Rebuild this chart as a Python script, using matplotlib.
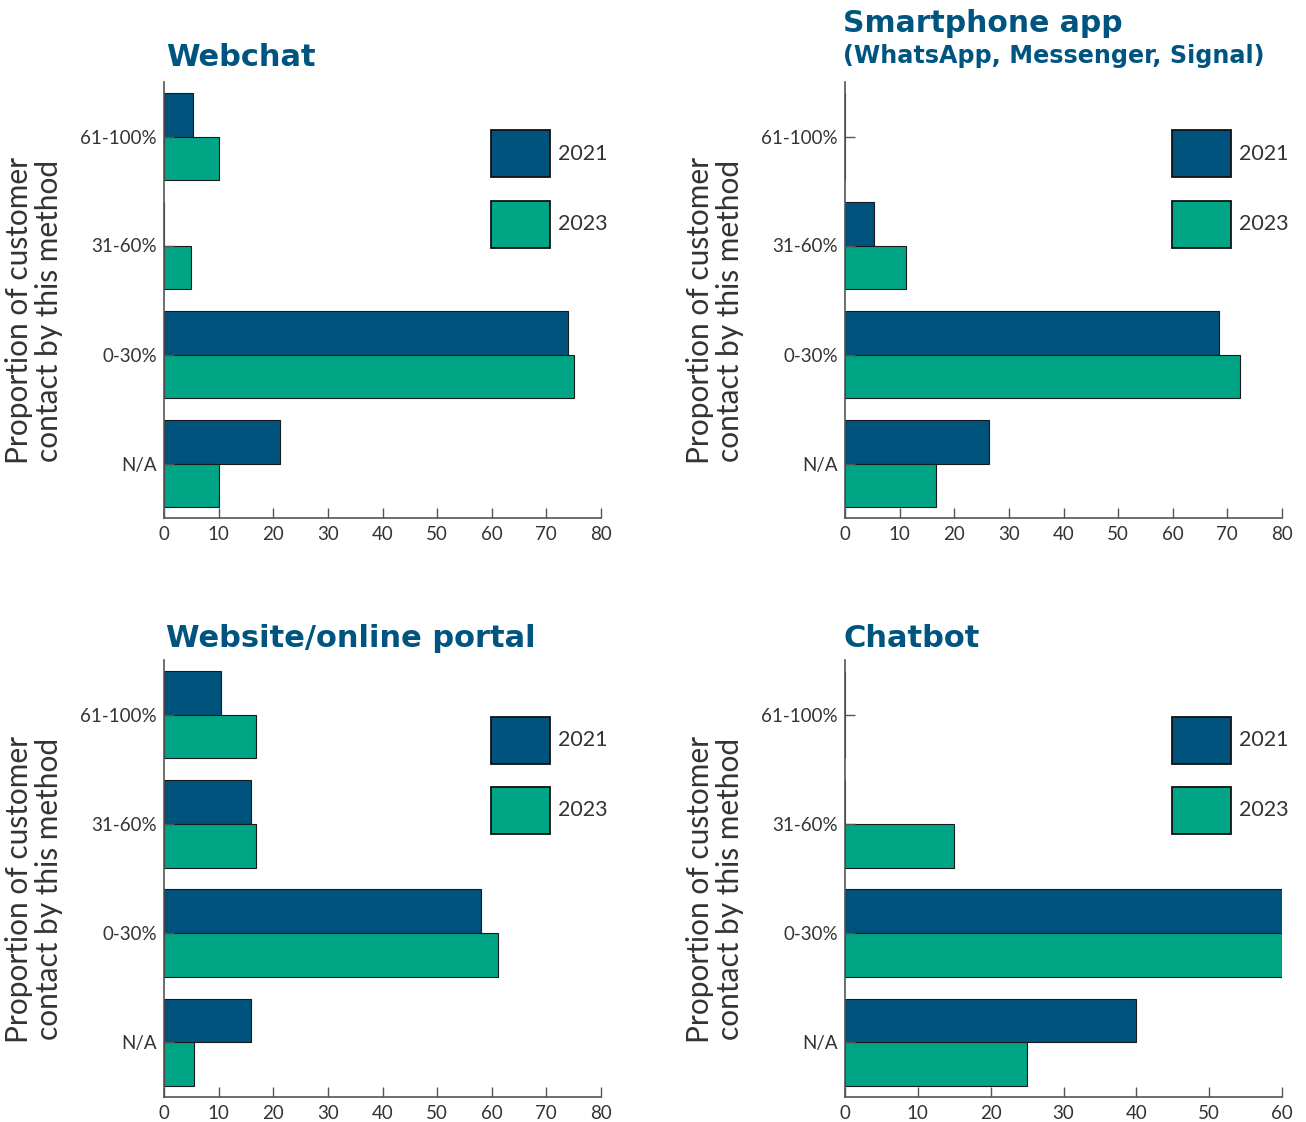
import matplotlib
matplotlib.use("Agg")
import matplotlib.pyplot as plt
from matplotlib.patches import Rectangle
import numpy as np

plt.rcParams['font.family'] = ['Lato', 'DejaVu Sans']

categories = ['N/A', '0-30%', '31-60%', '61-100%']
years = ['2021', '2023']

webchat_2021 = [21.2, 74, 0, 5.3]
webchat_2023 = [10, 75, 5, 10]
smartphone_2021 = [26.4, 68.5, 5.3, 0]
smartphone_2023 = [16.7, 72.3, 11.2, 0]
website_2021 = [15.9, 58, 15.9, 10.5]
website_2023 = [5.5, 61.1, 16.8, 16.8]
chatbot_2021 = [40, 60, 0, 0]
chatbot_2023 = [25, 60, 15, 0]

col_2021 = '#00537C'
col_2023 = '#00A586'
title_col = '#005580'
axis_col = '#555555'
text_col = '#333333'

W, H = 1306, 1122
fig = plt.figure(figsize=(W / 100, H / 100), dpi=100)

# left, right, top, bottom (px), data, xmax, title lines with baselines, legend box tops
panels = [
    (164, 601, 82, 518, webchat_2021, webchat_2023, 80,
     [('Webchat', 22, 66)], (130, 201)),
    (845, 1282, 82, 518, smartphone_2021, smartphone_2023, 80,
     [('Smartphone app', 21.5, 32), ('(WhatsApp, Messenger, Signal)', 17.2, 63)], (130, 201)),
    (164, 601, 660, 1097, website_2021, website_2023, 80,
     [('Website/online portal', 22, 647)], (717, 787)),
    (845, 1282, 660, 1097, chatbot_2021, chatbot_2023, 60,
     [('Chatbot', 22, 647)], (717, 787)),
]

y = np.arange(len(categories))
h = 0.4

for left, right, top, bottom, v21, v23, xmax, title, leg_tops in panels:
    aw, ah = right - left, bottom - top
    ax = fig.add_axes([left / W, 1 - bottom / H, aw / W, ah / H])
    ax.barh(y + h / 2, v21, height=h, color=col_2021, edgecolor='#1a1a1a', linewidth=0.8)
    ax.barh(y - h / 2, v23, height=h, color=col_2023, edgecolor='#1a1a1a', linewidth=0.8)
    ax.set_ylim(-0.5, 3.5)
    ax.set_xlim(0, xmax)
    ax.set_xticks(np.arange(0, xmax + 1, 10))
    ax.set_yticks(y)
    ax.set_yticklabels(categories)
    for s in ['top', 'right']:
        ax.spines[s].set_visible(False)
    for s in ['left', 'bottom']:
        ax.spines[s].set_color(axis_col)
        ax.spines[s].set_linewidth(1.2)
    ax.tick_params(axis='both', direction='in', length=7, width=1, color=axis_col,
                   labelsize=13.5, labelcolor=text_col)
    ax.tick_params(axis='x', pad=6)
    ax.tick_params(axis='y', pad=5)
    ax.set_ylabel('Proportion of customer\ncontact by this method', fontsize=21.5,
                  color=text_col, linespacing=1.1)
    ax.yaxis.set_label_coords(-101 / aw, 0.475)

    tx = 0.004 if left < 600 else -0.004
    for txt, fs, base in title:
        ax.text(tx, (bottom - base) / ah, txt,
                transform=ax.transAxes, fontsize=fs, fontweight='bold',
                family='DejaVu Sans', color=title_col, va='baseline', ha='left')

    # legend boxes
    x0 = (491 - 164) / 437 if left < 600 else (1172 - 845) / 437
    for yr, col, ytop in zip(years, [col_2021, col_2023], leg_tops):
        y0 = (bottom - ytop - 47) / ah
        ax.add_patch(Rectangle((x0, y0), 59 / aw, 47 / ah, transform=ax.transAxes,
                               facecolor=col, edgecolor='#111111', linewidth=1.3,
                               clip_on=False))
        ax.text(x0 + 67 / aw, y0 + 23.5 / ah, yr, transform=ax.transAxes,
                fontsize=15.5, color=text_col, va='center', ha='left')

fig.savefig('out.png', dpi=100)
